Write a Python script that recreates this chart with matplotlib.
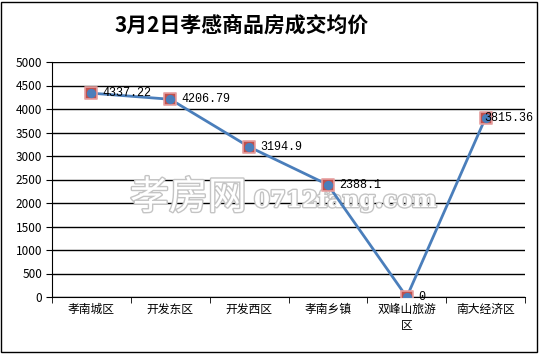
import matplotlib.pyplot as plt
import matplotlib.patheffects as pe
from matplotlib.patches import Rectangle

plt.rcParams['font.family'] = ['Noto Sans CJK SC', 'DejaVu Sans']

# data
districts = ['孝南城区', '开发东区', '开发西区', '孝南乡镇', '双峰山旅游\n区', '南大经济区']
prices = [4337.22, 4206.79, 3194.9, 2388.1, 0, 3815.36]
price_labels = ['4337.22', '4206.79', '3194.9', '2388.1', '0', '3815.36']
yticks = list(range(0, 5001, 500))

fig = plt.figure(figsize=(5.39, 3.54), dpi=100)
ax = fig.add_axes([52 / 539, 1 - 297 / 354, 473 / 539, 235 / 354])

x = list(range(len(districts)))
ax.plot(x, prices, color='#4a7ebb', lw=2, zorder=3)
ax.scatter(x, prices, marker='s', s=64, color='#c0504d', edgecolor='#e6a0a0',
           linewidths=1.2, zorder=4)
ax.scatter(x, prices, marker='o', s=32, color='#4a7ebb', zorder=5)

for i, (xi, yi, lab) in enumerate(zip(x, prices, price_labels)):
    # last label is pushed left so it stays inside the frame
    dx = 8 if i < len(prices) - 1 else -1
    ax.annotate(lab, (xi, yi), xytext=(dx, 0), textcoords='offset points',
                va='center', ha='left', fontsize=8.5, family='Liberation Mono',
                zorder=6, annotation_clip=False)

ax.set_xlim(-0.5, len(districts) - 0.5)
ax.set_ylim(0, 5000)
ax.set_yticks(yticks)
ax.set_yticklabels([str(t) for t in yticks], fontsize=8.5)
ax.set_xticks(x)
ax.set_xticklabels(districts, fontsize=8.5, linespacing=1.3)
ax.set_xticks([i + 0.5 for i in range(-1, len(districts))], minor=True)
ax.tick_params(axis='x', which='major', length=0, pad=4)
ax.tick_params(axis='x', which='minor', length=4, direction='out', color='black')
ax.tick_params(axis='y', length=4, direction='out', pad=3)
ax.grid(axis='y', color='black', lw=1, zorder=0.5)
ax.set_axisbelow(True)
for side in ['top', 'right']:
    ax.spines[side].set_visible(False)
ax.spines['left'].set_color('black')
ax.spines['bottom'].set_color('black')

fig.text(242 / 539, 1 - 25 / 354, '3月2日孝感商品房成交均价', ha='center', va='center',
         fontsize=15, fontweight='bold')

# watermark, under the line but over the grid
outline = [pe.withStroke(linewidth=2, foreground='#c4c4c4')]
wm1 = ax.text(130 / 539, 1 - 198 / 354, '孝房网', transform=fig.transFigure,
              ha='left', va='center', fontsize=28, color='white', zorder=2,
              clip_on=False)
wm1.set_path_effects(outline)
wm2 = ax.text(254 / 539, 1 - 201 / 354, '0712fang.com', transform=fig.transFigure,
              ha='left', va='center', fontsize=16.5, fontweight='bold',
              family='DejaVu Serif', color='white', zorder=2, clip_on=False)
wm2.set_path_effects(outline)

fig.patches.append(Rectangle((1 / 539, 2 / 354), 536 / 539, 350 / 354,
                             transform=fig.transFigure, fill=False,
                             edgecolor='black', lw=1))

fig.savefig('out.png', dpi=100)
